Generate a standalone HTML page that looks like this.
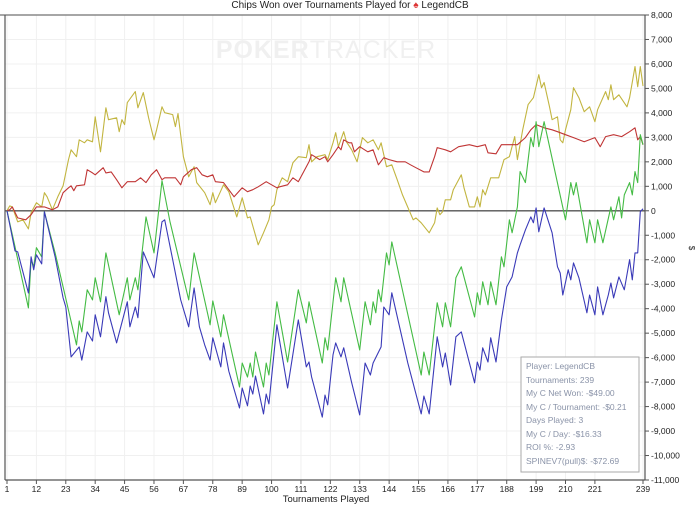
<!DOCTYPE html>
<html><head><meta charset="utf-8"><style>
body{margin:0;background:#fff;}
svg{display:block;font-family:"Liberation Sans",sans-serif;}
</style></head><body>
<svg id="chart" width="700" height="507" viewBox="0 0 700 507" xmlns="http://www.w3.org/2000/svg">
<text x="350" y="8" text-anchor="middle" font-size="10" fill="#222">Chips Won over Tournaments Played for <tspan fill="#d33">♠</tspan> LegendCB</text>
<g id="grid"></g>
<text x="326" y="58" text-anchor="middle" font-size="25" font-weight="bold" fill="#f0f0f0" letter-spacing="1">POKER<tspan font-weight="normal">TRACKER</tspan></text>
<g id="series"></g>
<g id="axes"></g>
<text x="326" y="502" text-anchor="middle" font-size="9.5" fill="#222">Tournaments Played</text>
<text x="689" y="248" text-anchor="middle" font-size="8" fill="#222" transform="rotate(90 689 248)">$</text>
<g>
<rect x="521" y="357" width="118" height="115" fill="#fff" stroke="#aaa" stroke-width="1"/>
<g font-size="8.5" fill="#8a93a8">
<text x="526" y="369">Player: LegendCB</text>
<text x="526" y="383">Tournaments: 239</text>
<text x="526" y="396">My C Net Won: -$49.00</text>
<text x="526" y="410">My C / Tournament: -$0.21</text>
<text x="526" y="423">Days Played: 3</text>
<text x="526" y="437">My C / Day: -$16.33</text>
<text x="526" y="450">ROI %: -2.93</text>
<text x="526" y="464">SPINEV7(pull)$: -$72.69</text>
</g></g>
</svg>
<script>
const xTicks=[1,12,23,34,45,56,67,78,89,100,111,122,133,144,155,166,177,188,199,210,221,239];
const yTicks=[8000,7000,6000,5000,4000,3000,2000,1000,0,-1000,-2000,-3000,-4000,-5000,-6000,-7000,-8000,-9000,-10000,-11000];
const yellowT=[1,2,3,5,7,9,10,12,14,15,16,18,20,22,24,25,27,28,30,31,33,34,36,38,39,42,43,44,45,46,49,50,52,54,56,57,59,60,63,64,65,67,69,71,72,75,77,78,79,80,82,84,87,89,91,92,95,97,99,100,101,102,104,106,108,110,113,114,115,117,120,121,123,124,125,127,128,130,132,133,134,136,138,140,141,143,145,147,149,153,154,156,159,161,162,163,164,165,167,168,171,172,174,176,177,178,179,180,182,185,187,189,191,192,194,196,198,200,201,202,204,205,207,208,209,210,212,213,215,217,219,221,222,225,226,227,228,230,233,234,236,237,238,239];
const yellowV=[0,200,160,-450,-370,-740,-80,330,160,740,570,40,570,1020,2090,2490,2210,2900,2780,2900,2820,3840,2410,4210,3720,3800,3230,3720,3520,4420,4870,4210,4830,3800,2900,3310,4250,4010,3930,3440,3970,2210,1390,1800,1150,740,250,740,330,570,1060,780,-250,530,-290,-250,-1390,-900,-370,160,250,860,1350,1190,1960,2210,2170,2700,2000,2210,2290,2090,2780,3190,2620,3230,2820,2490,2000,2490,2990,2780,2900,2490,2780,1800,1880,1270,650,-370,-290,-490,-900,-490,120,-160,-40,450,450,860,1470,940,160,160,570,160,860,650,1350,1350,2090,2210,3030,2090,3310,4340,4620,5560,5030,5240,4250,3720,3840,2900,2780,3310,4130,5030,4620,4050,4250,3640,4130,4870,4540,5150,4540,4740,4250,4620,5890,5070,5890,5100];
const redT=[1,2,3,5,8,10,12,15,18,20,22,24,25,26,27,30,31,33,34,37,38,40,42,44,46,49,51,53,55,57,59,60,64,66,67,70,72,74,76,78,79,82,84,86,89,91,93,95,98,100,102,103,106,108,110,112,114,115,118,120,121,123,125,126,127,129,130,131,133,136,138,140,142,144,147,150,152,154,157,159,161,162,165,167,170,174,177,180,181,184,186,190,192,195,197,199,202,205,207,210,213,217,221,223,225,228,231,234,236,237,238,239];
const redV=[0,40,160,-290,-370,-160,160,160,40,160,740,940,1020,820,1020,1060,1680,1550,1470,1760,1550,1590,1270,940,1190,1190,1350,1150,1470,1680,1270,1350,1350,1060,1390,1680,1760,1470,1390,1470,1190,1150,860,570,940,780,860,980,1190,1060,940,980,1060,1350,1190,1590,2000,2290,2090,2210,2000,2290,2620,2490,2900,2780,2780,2410,2620,2410,2490,1880,2170,2090,2000,2000,1880,1760,1590,1590,2210,2580,2490,2410,2620,2700,2620,2700,2370,2330,2700,2700,2700,2990,3310,3520,3390,3310,3230,3110,2990,2820,2990,2620,3030,3110,3030,3230,3390,2900,3030,2700];
const greenT=[1,4,9,10,11,12,14,15,19,22,27,28,29,31,33,34,36,38,43,46,47,49,50,53,56,59,62,69,71,77,78,81,82,88,89,91,92,93,94,97,98,99,102,106,110,113,114,119,120,121,124,126,127,133,135,137,138,139,140,141,143,144,145,156,157,159,162,164,165,167,169,171,176,177,178,179,181,182,184,186,187,189,190,192,193,195,197,198,199,200,202,210,212,213,214,218,219,221,222,224,227,228,230,231,232,234,235,236,237,238,239];
const greenV=[0,-1470,-3970,-2000,-2290,-1510,-1880,-40,-1720,-3110,-5480,-4500,-4950,-3230,-3640,-2740,-3720,-1720,-4250,-2740,-3640,-2740,-3230,-250,-1720,1230,-450,-3640,-1720,-4660,-3680,-5150,-4250,-7200,-6220,-6790,-6220,-6790,-5770,-7200,-6220,-6710,-3720,-6180,-3230,-4580,-3720,-6220,-5190,-5690,-2740,-3720,-2740,-5690,-3720,-4660,-3720,-4170,-3230,-3720,-1720,-2210,-1270,-6710,-5770,-6710,-3760,-4740,-3760,-4740,-2740,-2290,-4340,-3350,-3840,-2900,-3840,-2900,-3840,-1880,-2290,-370,-900,160,1600,1150,2990,2620,3640,2620,3640,-370,1150,650,1150,-1310,-370,-1310,-370,-1310,160,-370,570,-290,650,1150,650,1600,1150,3110,2700];
const blueT=[1,4,5,9,10,11,12,14,15,19,22,23,25,28,29,31,33,34,36,38,39,42,46,47,49,50,52,56,59,60,63,66,69,71,73,75,77,78,81,82,84,88,89,91,92,93,94,97,98,99,102,106,110,113,114,115,119,120,121,123,124,126,127,130,133,135,137,138,141,142,144,145,151,156,157,159,162,164,165,167,169,171,176,177,178,179,181,182,184,186,188,190,192,193,195,197,198,199,200,202,205,207,208,209,211,212,213,215,218,219,221,222,224,226,227,228,230,232,234,235,236,237,238,239];
const blueV=[0,-1640,-1680,-3360,-1880,-2410,-1800,-2170,-40,-1880,-3560,-3930,-5970,-5560,-6100,-4950,-5320,-4250,-5150,-3510,-4170,-5400,-3720,-4740,-3930,-4370,-1680,-2740,-450,-370,-2000,-3640,-4740,-3150,-4740,-5480,-6100,-5190,-6380,-5400,-6550,-8060,-7240,-7970,-7160,-7490,-6750,-8300,-7490,-7890,-4660,-7240,-4460,-6380,-6180,-6790,-8430,-7530,-7930,-5890,-5400,-5970,-5600,-7030,-8340,-6220,-6710,-6220,-5560,-3930,-4250,-3350,-6220,-8300,-7570,-8300,-5150,-6380,-5810,-7120,-5150,-4950,-7030,-6180,-6510,-5600,-6180,-5190,-6180,-4460,-3110,-2700,-1720,-1390,-780,-250,-490,120,-860,120,-900,-2290,-2540,-3440,-2410,-2820,-2130,-2740,-4170,-3440,-4250,-3110,-4250,-3440,-2950,-3560,-2700,-3230,-2000,-2820,-1720,-1720,-40,80];

const NS='http://www.w3.org/2000/svg';
const X0=7,X1=643,Y0=15,Y1=480,L=5,R=645;
const xs=t=>X0+(t-1)*(X1-X0)/238;
const ys=v=>Y0+(8000-v)*(Y1-Y0)/19000;
function mk(tag,attrs,parent){const e=document.createElementNS(NS,tag);for(const k in attrs)e.setAttribute(k,attrs[k]);parent.appendChild(e);return e;}
const gridG=document.getElementById('grid'),axesG=document.getElementById('axes'),seriesG=document.getElementById('series');
yTicks.forEach(v=>{
  const g=mk('line',{x1:L,x2:R,y1:ys(v),y2:ys(v),stroke:'#f0f0f0','stroke-width':1},gridG);
  
  
  const tk=mk('line',{x1:R,x2:R+4,y1:ys(v),y2:ys(v),stroke:'#555'},axesG);
  
  
  const t=mk('text',{x:R+6,y:ys(v)+3,'font-size':8.5,fill:'#222'},axesG);
  
  
  t.textContent=v.toLocaleString('en-US');
});
xTicks.forEach(v=>{
  const g=mk('line',{x1:xs(v),x2:xs(v),y1:Y0,y2:Y1,stroke:'#f0f0f0','stroke-width':1},gridG);
  
  
  const tk=mk('line',{x1:xs(v),x2:xs(v),y1:Y1,y2:Y1+4,stroke:'#555'},axesG);
  
  
  const t=mk('text',{x:xs(v),y:Y1+12,'font-size':8.5,fill:'#222','text-anchor':'middle'},axesG);
  
  
  t.textContent=v;
});
const topBorder=mk('line',{x1:0,x2:R,y1:Y0,y2:Y0,stroke:'#888','stroke-width':1.5},axesG);


const la=mk('line',{x1:L,x2:L,y1:Y0,y2:Y1,stroke:'#555','stroke-width':1.2},axesG);


const ra=mk('line',{x1:R,x2:R,y1:Y0,y2:Y1,stroke:'#555','stroke-width':1.2},axesG);


const ba=mk('line',{x1:L,x2:R,y1:Y1,y2:Y1,stroke:'#555','stroke-width':1.2},axesG);


const zl=mk('line',{x1:L,x2:R,y1:ys(0),y2:ys(0),stroke:'#555','stroke-width':1.3},seriesG);


function drawLine(T,V,color,name){
  const d=T.map((t,i)=>(i?'L':'M')+xs(t).toFixed(1)+' '+ys(V[i]).toFixed(1)).join(' ');
  const p=mk('path',{d:d,fill:'none',stroke:color,'stroke-width':1.1,'stroke-linejoin':'round'},seriesG);
  
  
}
drawLine(yellowT,yellowV,'#c2b540','yellow-series');
drawLine(redT,redV,'#c03535','red-series');
drawLine(greenT,greenV,'#44bb44','green-series');
drawLine(blueT,blueV,'#3a3ab8','blue-series');
</script>
</body></html>
